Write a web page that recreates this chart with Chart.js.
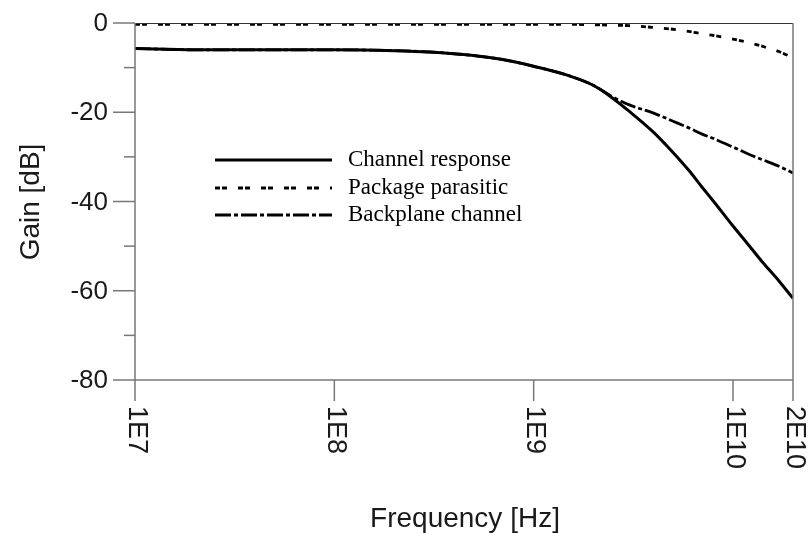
<!DOCTYPE html>
<html>
<head>
<meta charset="utf-8">
<script src="https://cdn.jsdelivr.net/npm/chart.js@4.4.1/dist/chart.umd.min.js"></script>
<style>
  html, body { margin: 0; padding: 0; background: #fff; }
  #wrap { width: 810px; height: 533px; }
</style>
</head>
<body>
<div id="wrap"><canvas id="gainChart" width="810" height="533"></canvas></div>
<script>
// Frequency points (Hz)
const freqHz = [1e7, 2e7, 5e7, 1e8, 2e8, 3e8, 5e8, 7e8, 1e9, 1.5e9, 2e9, 2.5e9, 3e9,
  4e9, 5e9, 6e9, 7e9, 8e9, 1e10, 1.2e10, 1.4e10, 1.7e10, 2e10];

// Gain in dB for each series
const channelResponse = [-5.7, -6.0, -6.0, -6.0, -6.2, -6.5, -7.3, -8.2, -9.7, -11.8, -14.0, -16.9, -19.7,
  -24.5, -29.0, -33.0, -36.8, -40.0, -45.5, -49.8, -53.5, -57.8, -61.7];
const packageParasitic = [-0.3, -0.3, -0.3, -0.3, -0.3, -0.3, -0.3, -0.3, -0.3, -0.3, -0.4, -0.5, -0.6,
  -1.0, -1.4, -1.9, -2.4, -2.8, -3.6, -4.4, -5.2, -6.4, -7.8];
const backplaneChannel = [-5.7, -6.0, -6.0, -6.0, -6.2, -6.5, -7.3, -8.2, -9.7, -11.8, -14.0, -16.6, -18.3,
  -20.2, -22.0, -23.5, -24.9, -25.9, -27.8, -29.4, -30.6, -32.1, -33.6];

const seriesNames = ['Channel response', 'Package parasitic', 'Backplane channel'];

// axis ticks
const xTickValues = [1e7, 1e8, 1e9, 1e10, 2e10];
const xTickLabels = ['1E7', '1E8', '1E9', '1E10', '2E10'];
const yMajorTicks = [0, -20, -40, -60, -80];
const yMinorTicks = [-10, -30, -50, -70];

const toPoints = (vals) => vals.map((v, i) => ({ x: freqHz[i], y: v }));

// axes, labels, frame and the inner legend drawn over the chart area
const axesPlugin = {
  id: 'axesPlugin',
  afterDraw(chart) {
    const ctx = chart.ctx;
    const xs = chart.scales.x;
    const ys = chart.scales.y;
    const a = chart.chartArea;
    ctx.save();

    // frame: top thin dark, left/bottom/right grey
    ctx.strokeStyle = '#333';
    ctx.lineWidth = 1;
    ctx.beginPath();
    ctx.moveTo(a.left, a.top + 0.5);
    ctx.lineTo(a.right, a.top + 0.5);
    ctx.stroke();

    ctx.strokeStyle = '#777';
    ctx.lineWidth = 1.5;
    ctx.beginPath();
    ctx.moveTo(a.left, a.top);
    ctx.lineTo(a.left, a.bottom);
    ctx.lineTo(a.right, a.bottom);
    ctx.stroke();
    ctx.beginPath();
    ctx.moveTo(a.right, a.top);
    ctx.lineTo(a.right, a.bottom);
    ctx.stroke();

    // y ticks
    yMajorTicks.forEach(v => {
      const y = ys.getPixelForValue(v);
      ctx.beginPath();
      ctx.moveTo(a.left - 22, y);
      ctx.lineTo(a.left, y);
      ctx.stroke();
    });
    yMinorTicks.forEach(v => {
      const y = ys.getPixelForValue(v);
      ctx.beginPath();
      ctx.moveTo(a.left - 11, y);
      ctx.lineTo(a.left, y);
      ctx.stroke();
    });

    // x ticks
    xTickValues.forEach(v => {
      const x = xs.getPixelForValue(v);
      ctx.beginPath();
      ctx.moveTo(x, a.bottom);
      ctx.lineTo(x, a.bottom + 21);
      ctx.stroke();
    });

    ctx.fillStyle = '#1a1a1a';

    // y tick labels
    ctx.font = '26px "Liberation Sans", Arial, sans-serif';
    ctx.textAlign = 'right';
    ctx.textBaseline = 'middle';
    yMajorTicks.forEach(v => {
      ctx.fillText(String(v), a.left - 27, ys.getPixelForValue(v) + 1);
    });

    // x tick labels, rotated clockwise (read top to bottom)
    ctx.font = '27px "Liberation Sans", Arial, sans-serif';
    ctx.textAlign = 'left';
    ctx.textBaseline = 'middle';
    xTickValues.forEach((v, i) => {
      const x = xs.getPixelForValue(v);
      ctx.save();
      ctx.translate(x + 1, a.bottom + 26);
      ctx.rotate(Math.PI / 2);
      ctx.fillText(xTickLabels[i], 0, 0);
      ctx.restore();
    });

    // axis titles
    ctx.font = '28px "Liberation Sans", Arial, sans-serif';
    ctx.textAlign = 'center';
    ctx.textBaseline = 'alphabetic';
    ctx.fillText('Frequency [Hz]', 465, 527);

    ctx.save();
    ctx.translate(39, 202);
    ctx.rotate(-Math.PI / 2);
    ctx.fillText('Gain [dB]', 0, 0);
    ctx.restore();

    // legend inside plot
    const rows = [160, 188, 215];
    chart.data.datasets.forEach((ds, i) => {
      ctx.strokeStyle = '#000';
      ctx.lineWidth = ds.borderWidth;
      ctx.setLineDash(ds.borderDash || []);
      ctx.beginPath();
      ctx.moveTo(215, rows[i]);
      ctx.lineTo(332, rows[i]);
      ctx.stroke();
    });
    ctx.setLineDash([]);
    ctx.fillStyle = '#000';
    ctx.font = '23px "Liberation Serif", "Times New Roman", serif';
    ctx.textAlign = 'left';
    ctx.textBaseline = 'middle';
    seriesNames.forEach((name, i) => ctx.fillText(name, 348, rows[i]));

    ctx.restore();
  }
};

const ctx = document.getElementById('gainChart').getContext('2d');
new Chart(ctx, {
  type: 'line',
  data: {
    datasets: [
      {
        label: seriesNames[0],
        data: toPoints(channelResponse),
        borderColor: '#000',
        borderWidth: 3,
        pointRadius: 0,
        cubicInterpolationMode: 'monotone',
        order: 0,
      },
      {
        label: seriesNames[1],
        data: toPoints(packageParasitic),
        borderColor: '#000',
        borderWidth: 2.8,
        borderDash: [5, 2, 5, 11],
        pointRadius: 0,
        cubicInterpolationMode: 'monotone',
        order: 1,
      },
      {
        label: seriesNames[2],
        data: toPoints(backplaneChannel),
        borderColor: '#000',
        borderWidth: 2.8,
        borderDash: [16, 3, 4, 3],
        pointRadius: 0,
        cubicInterpolationMode: 'monotone',
        order: 2,
      },
    ],
  },
  options: {
    responsive: false,
    animation: false,
    devicePixelRatio: 1,
    layout: { padding: { left: 135, right: 17, top: 23, bottom: 153 } },
    scales: {
      x: { type: 'logarithmic', min: 1e7, max: 2e10, display: false },
      y: { type: 'linear', min: -80, max: 0, display: false },
    },
    plugins: {
      legend: { display: false },
      tooltip: { enabled: false },
    },
  },
  plugins: [axesPlugin],
});
</script>
</body>
</html>
